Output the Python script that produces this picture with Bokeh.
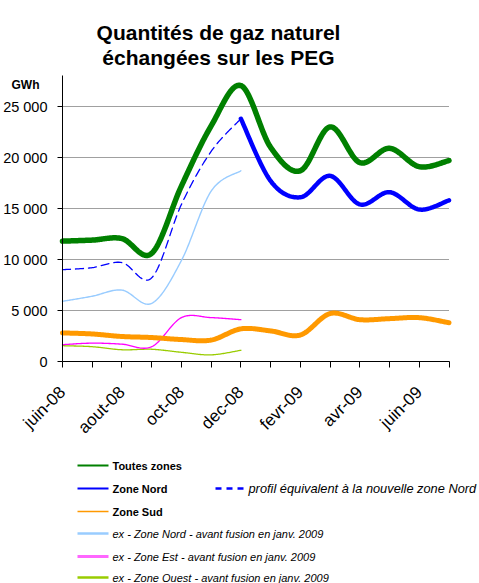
import numpy as np
from bokeh.plotting import figure
from bokeh.models import FixedTicker, Label, Range1d, ColumnDataSource
from bokeh.core.properties import value
from bokeh.embed import file_html
from bokeh.resources import INLINE

# ---------------- data ----------------
months = ["juin-08", "juil-08", "aout-08", "sept-08", "oct-08", "nov-08", "dec-08",
          "janv-09", "fevr-09", "mars-09", "avr-09", "mai-09", "juin-09", "juil-09"]
label_every = 2

toutes_zones = [11800, 11900, 12050, 10600, 17200, 23100, 27050,
                21000, 18700, 23000, 19500, 20900, 19100, 19700]
zone_sud = [2800, 2700, 2450, 2350, 2150, 2100, 3200,
            3000, 2600, 4700, 4100, 4200, 4300, 3800]
zone_nord_start = 6
zone_nord = [23800, 17700, 16100, 18200, 15400, 16600, 14900, 15800]
profil_nord = [9000, 9200, 9700, 8200, 15400, 20600, 23800]
ex_nord = [5900, 6400, 7000, 5700, 9900, 16700, 18700]
ex_est = [1650, 1800, 1700, 1450, 4300, 4300, 4100]
ex_ouest = [1550, 1450, 1150, 1200, 900, 650, 1100]

y_ticks = [0, 5000, 10000, 15000, 20000, 25000]
y_max = 28000

title_lines = ["Quantités de gaz naturel", "échangées sur les PEG"]
unit_label = "GWh"
legend_names = ["Toutes zones", "Zone Nord", "Zone Sud",
                "ex - Zone Nord - avant fusion en janv. 2009",
                "ex - Zone Est - avant fusion en janv. 2009",
                "ex - Zone Ouest - avant fusion en janv. 2009"]
dash_name = "profil équivalent à la nouvelle zone Nord"

FONT = "Liberation Sans"

# ---------------- geometry (picture pixels) ----------------
W, H = 479, 583
AX_X0, AX_X1 = 62, 448.5         # x axis extent
AX_Y0, AX_Y25 = 361, 106         # y of value 0 and 25000
ppx = (AX_X1 - AX_X0) / (len(months) - 1)
upy = 25000 / (AX_Y0 - AX_Y25)   # data units per pixel


def dx(px):
    return (px - AX_X0) / ppx


def dy(py):
    return (AX_Y0 - py) * upy


def smooth(xs, ys, n=30):
    """Excel-like smoothed line (cubic Bezier through the points)."""
    P = np.column_stack([np.asarray(xs, float), np.asarray(ys, float)])
    Pe = np.vstack([P[0], P, P[-1]])
    t = np.linspace(0, 1, n, endpoint=False)[:, None]
    out = []
    for i in range(len(P) - 1):
        p0, p1, p2, p3 = Pe[i], Pe[i + 1], Pe[i + 2], Pe[i + 3]
        c1 = p1 + (p2 - p0) / 6.0
        c2 = p2 - (p3 - p1) / 6.0
        b = ((1 - t) ** 3) * p1 + 3 * ((1 - t) ** 2) * t * c1 + 3 * (1 - t) * t ** 2 * c2 + t ** 3 * p2
        out.append(b)
    out.append(P[-1][None, :])
    arr = np.vstack(out)
    return arr[:, 0], arr[:, 1]


p = figure(width=W, height=H,
           x_range=Range1d(dx(0), dx(W)),
           y_range=Range1d(dy(H), dy(0)),
           output_backend="svg", toolbar_location=None, min_border=0)
p.outline_line_color = None
p.background_fill_color = "white"
p.border_fill_color = "white"
p.grid.visible = False

last = len(months) - 1
# horizontal gridlines
gy = y_ticks[1:]
p.segment(x0=[0] * len(gy), x1=[last] * len(gy), y0=gy, y1=gy,
          line_color="#a0a0a0", line_width=1)

# axes placed in the frame
p.xaxis.fixed_location = 0
p.yaxis.fixed_location = 0
p.xaxis.bounds = (0, last)
p.yaxis.bounds = (0, y_max)

p.xaxis.ticker = FixedTicker(ticks=list(range(len(months))))
p.xaxis.major_label_overrides = {i: (m if i % label_every == 0 else "") for i, m in enumerate(months)}
p.xaxis.major_label_orientation = np.pi / 4
p.xaxis.major_tick_in = 0
p.xaxis.major_tick_out = 6
p.xaxis.major_label_standoff = 22
p.xaxis.major_label_text_font_size = "17px"

p.yaxis.ticker = FixedTicker(ticks=y_ticks)
p.yaxis.major_label_overrides = {t: "{:,}".format(t).replace(",", " ") for t in y_ticks}
p.yaxis.major_tick_in = 0
p.yaxis.major_tick_out = 5
p.yaxis.major_label_standoff = 10
p.yaxis.major_label_text_font_size = "14.5px"

for ax in (p.xaxis, p.yaxis):
    ax.axis_line_color = "#000000"
    ax.major_tick_line_color = "#000000"
    ax.minor_tick_line_color = None
    ax.major_label_text_font = FONT
    ax.major_label_text_color = "#000000"

xi = np.arange(len(months))


def draw(x_idx, vals, color, width, dash="solid"):
    sx, sy = smooth(x_idx, vals)
    p.line(sx, sy, line_color=color, line_width=width, line_dash=dash,
           line_cap="round", line_join="round")


draw(xi[:len(ex_ouest)], ex_ouest, "#99CC00", 1.3)
draw(xi[:len(ex_est)], ex_est, "#FF00FF", 1.3)
draw(xi[:len(ex_nord)], ex_nord, "#99CCFF", 1.4)
draw(xi, zone_sud, "#FF9900", 5)
draw(xi[:len(profil_nord)], profil_nord, "#0000FF", 1.3, "8 5")
draw(xi[zone_nord_start:zone_nord_start + len(zone_nord)], zone_nord, "#0000FF", 4.5)
draw(xi, toutes_zones, "#008000", 5.5)

# titles
for line, py in zip(title_lines, [32, 57]):
    p.add_layout(Label(x=dx(218), y=dy(py), text=line, text_align="center",
                       text_baseline="alphabetic", text_font=FONT, text_font_size="21px",
                       text_font_style="bold", text_color="#000000"))
p.add_layout(Label(x=dx(25), y=dy(84), text=unit_label, text_align="center",
                   text_baseline="alphabetic", text_font=FONT, text_font_size="12px",
                   text_font_style="bold", text_color="#000000"))

# ---------------- legend ----------------
legend_colors = ["#008000", "#0000FF", "#FF9900", "#99CCFF", "#FF66FF", "#99CC00"]
legend_widths = [2.2, 2, 1.5, 2.5, 3, 2.5]
legend_rows = [465, 488, 511, 533, 556, 577]

for c, w, py in zip(legend_colors, legend_widths, legend_rows):
    p.line([dx(77), dx(108)], [dy(py), dy(py)], line_color=c, line_width=w)

bold_src = ColumnDataSource(dict(x=[dx(112)] * 3, y=[dy(v) for v in legend_rows[:3]],
                                 t=legend_names[:3]))
p.text(x="x", y="y", text="t", source=bold_src, text_font=value(FONT),
       text_font_size=value("11px"), text_font_style="bold", text_baseline="middle",
       text_color="#000000")
ital_src = ColumnDataSource(dict(x=[dx(112)] * 3, y=[dy(v) for v in legend_rows[3:]],
                                 t=legend_names[3:]))
p.text(x="x", y="y", text="t", source=ital_src, text_font=value(FONT),
       text_font_size=value("11px"), text_font_style="italic", text_baseline="middle",
       text_color="#000000")

p.line([dx(215), dx(243)], [dy(legend_rows[1])] * 2, line_color="#0000FF", line_width=2.5,
       line_dash="6 5")
dash_src = ColumnDataSource(dict(x=[dx(248)], y=[dy(legend_rows[1])], t=[dash_name]))
p.text(x="x", y="y", text="t", source=dash_src, text_font=value(FONT),
       text_font_size=value("12.8px"), text_font_style="italic", text_baseline="middle",
       text_color="#000000")

open("out.html", "w").write(file_html(p, INLINE))
